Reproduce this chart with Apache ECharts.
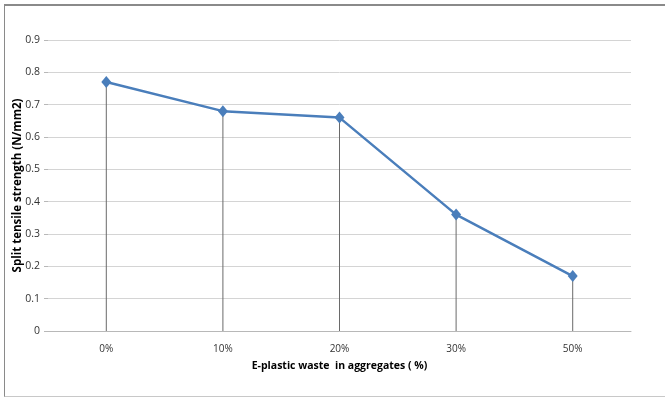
<!DOCTYPE html>
<html>
<head>
<meta charset="utf-8">
<script src="https://cdn.jsdelivr.net/npm/echarts@6/dist/echarts.min.js"></script>
<style>
  html, body { margin: 0; padding: 0; background: #fff; }
  #wrap { position: relative; width: 665px; height: 397px; }
  #frame { position: absolute; left: 4px; top: 4px; right: -2px; bottom: 0px;
           border-left: 1px solid #8a8a8a; border-top: 2px solid #8a8a8a; border-bottom: 1px solid #c8c8c8; }
  #chart { position: absolute; left: 0; top: 0; width: 665px; height: 397px; }
</style>
</head>
<body>
<div id="wrap">
  <div id="frame"></div>
  <div id="chart"></div>
</div>
<script>
// Replacement share of e-plastic waste in the aggregates
const categories = ['0%', '10%', '20%', '30%', '50%'];
// Split tensile strength, N/mm2
const strength = [0.77, 0.68, 0.66, 0.36, 0.17];

const font = '"Open Sans", "Liberation Sans", sans-serif';

const chart = echarts.init(document.getElementById('chart'), null, { renderer: 'canvas' });
chart.setOption({
  animation: false,
  backgroundColor: 'transparent',
  grid: { left: 48, right: 34, top: 40, bottom: 66, containLabel: false, outerBoundsMode: 'none' },
  xAxis: {
    type: 'category',
    data: categories,
    boundaryGap: true,
    name: 'E-plastic waste  in aggregates ( %)',
    nameLocation: 'middle',
    nameGap: 30,
    nameTextStyle: { fontFamily: font, fontSize: 10.5, fontWeight: 'bold', color: '#000' },
    axisLine: { lineStyle: { color: '#b8b8b8', width: 1 } },
    axisTick: { show: false },
    axisLabel: { fontFamily: font, fontSize: 10, color: '#333', margin: 13 },
    splitLine: { show: false }
  },
  yAxis: {
    type: 'value',
    min: 0,
    max: 0.9,
    interval: 0.1,
    name: 'Split tensile strength (N/mm2)',
    nameLocation: 'middle',
    nameGap: 24,
    nameMoveOverlap: false,
    nameTextStyle: { fontFamily: font, fontSize: 11.5, fontWeight: 'bold', color: '#000' },
    axisLine: { show: false },
    axisTick: { show: true, length: 4, lineStyle: { color: '#b8b8b8' } },
    axisLabel: { fontFamily: font, fontSize: 10.5, color: '#333', margin: 8,
                 formatter: v => (Math.round(v * 10) / 10).toString() },
    splitLine: { lineStyle: { color: '#d4d4d4', width: 1 } }
  },
  series: [
    {
      // vertical drop lines from each point down to the category axis
      type: 'bar',
      data: strength,
      barWidth: 1,
      itemStyle: { color: '#6a6a6a' },
      silent: true,
      z: 1
    },
    {
      type: 'line',
      data: strength,
      symbol: 'diamond',
      symbolSize: [10, 12],
      showSymbol: true,
      lineStyle: { color: '#4a7ebb', width: 2.5 },
      itemStyle: { color: '#4a7ebb' },
      z: 3
    }
  ]
});
</script>
</body>
</html>
